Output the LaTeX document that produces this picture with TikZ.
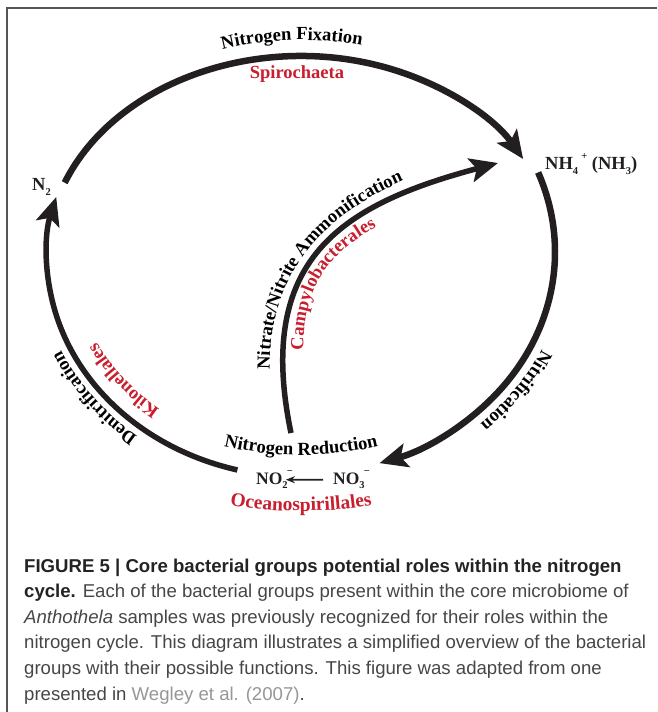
\documentclass[tikz,border=0pt]{standalone}
\usepackage{fontspec}
\setmainfont{Liberation Serif}
\setsansfont{Liberation Sans}
\usetikzlibrary{arrows.meta,decorations.text}
\definecolor{nred}{RGB}{200,30,45}
\definecolor{ink}{RGB}{35,31,32}
\definecolor{capbold}{RGB}{35,35,35}
\definecolor{captext}{RGB}{70,70,70}
\definecolor{caplink}{RGB}{150,150,150}
\definecolor{framegray}{RGB}{85,85,85}
\newcommand\lbl{\fontsize{18.5}{20}\selectfont\bfseries}
\newcommand\capfont{\fontsize{18.6}{22}\selectfont\sffamily}
\newcommand\subx[1]{\raisebox{-0.28em}{\fontsize{10.5}{10}\selectfont #1}}
\newcommand\supx[1]{\raisebox{0.5em}{\fontsize{10.5}{10}\selectfont #1}}
\newcommand\subsupx[2]{\rlap{\raisebox{0.55em}{\hspace{0.25em}\fontsize{10.5}{10}\selectfont #2}}\raisebox{-0.28em}{\fontsize{10.5}{10}\selectfont #1}\hspace{0.45em}}
\begin{document}
\begin{tikzpicture}[x=1pt,y=1pt,
  cyc/.style={draw=ink, line width=6.5pt, -{Stealth[length=28pt,width=24pt,inset=6pt]}},
  tlab/.style={font=\lbl, text=ink, inner sep=0pt},
  capline/.style={font=\capfont, text=captext, inner sep=0pt, anchor=base west},
  curved/.style={decorate, decoration={text along path, text align=center, text={#1}}},
  curvedL/.style 2 args={decorate, decoration={text along path, text align={left, left indent=#1}, text={#2}}},
]
\useasboundingbox (0,0) rectangle (657,-712);
\draw[framegray, line width=1.5pt] (7,-712) -- (7,-8) -- (657,-8);

% species nodes
\node[tlab, anchor=base west] (n2) at (32,-190) {N\subx{2}};
\node[tlab, anchor=base west] (nh4) at (545,-169) {NH\subx{4}\,\supx{+} (NH\subx{3})};
\node[tlab, font=\fontsize{17.5}{18}\selectfont\bfseries, anchor=base west] (no2) at (256,-484) {NO\subsupx{2}{−}};
\node[tlab, font=\fontsize{17.5}{18}\selectfont\bfseries, anchor=base west] (no3) at (333,-484) {NO\subsupx{3}{−}};
\draw[ink, line width=1.8pt, -{Stealth[length=9pt,width=7pt]}, shorten >=-2pt, shorten <=10pt] (no3.west) -- (no2.east);

% arc end points
\path (301,-256) ++(-201.5:254 and 200) coordinate (fixS);
\path (301,-252) ++(21:254 and 222) coordinate (nitS);
\path (301,-256) ++(-104.5:254 and 221) coordinate (denS);
\coordinate (amS) at (291,-433);
\coordinate (amE) at (498,-163);

% cycle arrows
\draw[cyc] (fixS) arc[start angle=-201.5, end angle=-331, x radius=254, y radius=200];
\draw[cyc] (nitS) arc[start angle=21, end angle=-72, x radius=254, y radius=222];
\draw[cyc, line width=5.5pt] (denS) arc[start angle=-104.5, end angle=-195.5, x radius=254, y radius=221];
\draw[cyc, line width=5.5pt] (amS) .. controls (255,-260) and (340,-205) .. (amE);

% curved labels
\path[curved={|\lbl|Nitrogen Fixation}] (301,-256) ++(117:270 and 216) arc[start angle=117, end angle=67, x radius=270, y radius=216];
\node[tlab, text=nred] (spiro) at (297,-74) {Spirochaeta};
\path[curved={|\lbl|Nitrification}] (301,-252) ++(-10:265 and 233) arc[start angle=-10, end angle=-61, x radius=265, y radius=233];
\path[curved={|\lbl|Denitrification}] (301,-256) ++(240:263 and 230) arc[start angle=240, end angle=195, x radius=263, y radius=230];
\path[curved={|\lbl\color{nred}|Kilonellales}] (301,-256) ++(242:228 and 195) arc[start angle=242, end angle=195, x radius=228, y radius=195];
\path[curved={|\lbl|Nitrogen Reduction}] (301,-108) ++(-110:347) arc[start angle=-110, end angle=-70, radius=347];
\path[curved={|\fontsize{19.5}{21}\selectfont\bfseries\color{nred}|Oceanospirillales}] (301,-81) ++(-102:430) arc[start angle=-102, end angle=-78, radius=430];
\path[curvedL={67pt}{|\lbl|Nitrate/Nitrite Ammonification}] (277.3,-435.9) .. controls (241.3,-262.9) and (336.4,-191.5) .. (494.4,-149.5);
\path[curvedL={79pt}{|\lbl\color{nred}|Campylobacterales}] (312.5,-428.5) .. controls (276.5,-255.5) and (345.7,-226.3) .. (503.7,-184.3);

% caption
\node[capline, text=capbold] (c1) at (24,-572) {\bfseries FIGURE 5 | Core bacterial groups potential roles within the nitrogen};
\node[capline] (c2) at (24,-597.6) {{\color{capbold}\bfseries cycle.} Each of the bacterial groups present within the core microbiome of};
\node[capline] (c3) at (24,-623.2) {\itshape Anthothela\upshape{} samples was previously recognized for their roles within the};
\node[capline] (c4) at (24,-648.8) {nitrogen cycle. This diagram illustrates a simplified overview of the bacterial};
\node[capline] (c5) at (24,-674.4) {groups with their possible functions. This figure was adapted from one};
\node[capline] (c6) at (24,-700) {presented in {\color{caplink}Wegley et al. (2007)}.};
\end{tikzpicture}
\end{document}
